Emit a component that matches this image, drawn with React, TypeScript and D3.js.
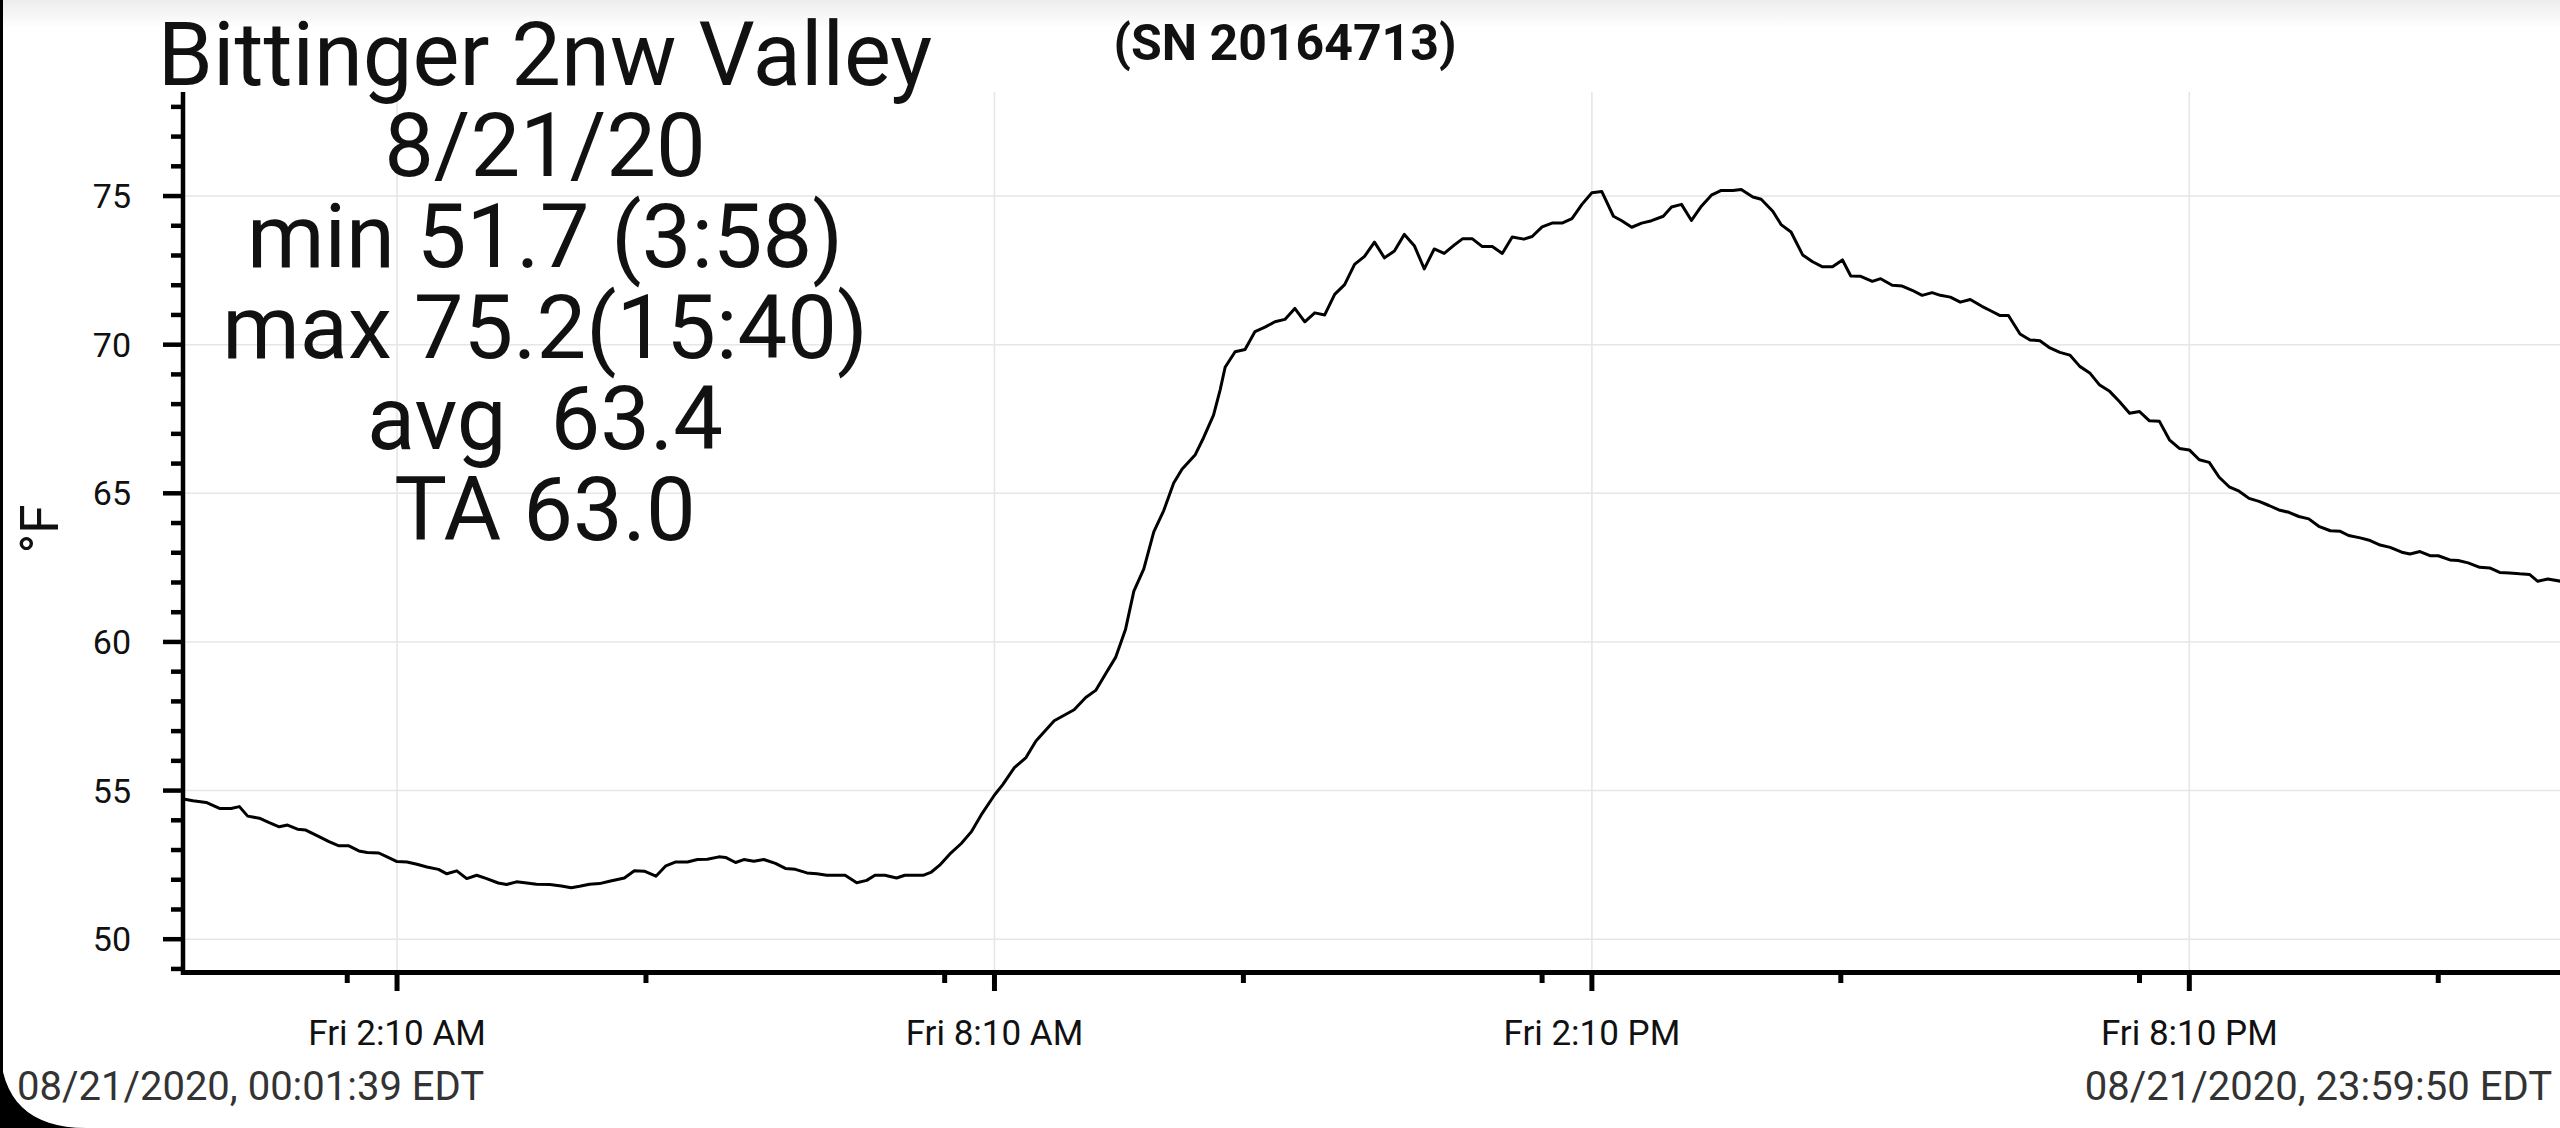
import React, { useEffect } from "react";
import * as d3 from "d3";

// ---- data (minutes since midnight, °F) ----
const minutes: number[] = [
  2, 7, 15, 23, 30, 35, 40, 47, 53, 59, 64, 70, 75, 83, 89, 95, 101, 107, 112, 119,
  124, 130, 136, 142, 148, 155, 160, 166, 172, 178, 184, 191, 196, 202, 207, 214, 222, 229, 235, 240,
  246, 252, 258, 267, 273, 279, 286, 292, 298, 305, 311, 317, 324, 328, 334, 339, 345, 351, 358, 364,
  370, 377, 383, 389, 400, 407, 413, 418, 424, 431, 436, 447, 452, 457, 463, 470, 476, 482, 490, 495,
  502, 509, 515, 526, 538, 545, 551, 557, 563, 569, 574, 580, 586, 592, 598, 603, 611, 616, 622, 626,
  629, 635, 641, 647, 653, 659, 665, 671, 677, 683, 689, 695, 701, 707, 713, 719, 725, 731, 737, 743,
  749, 755, 761, 767, 772, 778, 784, 790, 796, 802, 809, 814, 820, 826, 832, 838, 844, 850, 856, 863,
  868, 874, 880, 886, 893, 898, 904, 910, 916, 922, 928, 935, 940, 947, 952, 959, 964, 970, 977, 983,
  989, 995, 1001, 1006, 1012, 1019, 1024, 1031, 1037, 1043, 1049, 1055, 1060, 1066, 1072, 1078, 1085, 1090, 1096, 1101,
  1108, 1114, 1120, 1126, 1132, 1138, 1144, 1150, 1156, 1162, 1168, 1174, 1180, 1186, 1192, 1198, 1204, 1210, 1216, 1222,
  1228, 1234, 1240, 1246, 1252, 1258, 1264, 1270, 1276, 1282, 1288, 1295, 1301, 1306, 1313, 1319, 1325, 1331, 1338, 1343,
  1349, 1355, 1360, 1367, 1372, 1378, 1385, 1391, 1397, 1403, 1409, 1415, 1420, 1426, 1434, 1440,
];
const temps: number[] = [
  54.71, 54.66, 54.6, 54.4, 54.4, 54.46, 54.14, 54.07, 53.92, 53.78, 53.84, 53.7, 53.67, 53.45, 53.28, 53.14, 53.14, 52.97, 52.92, 52.9,
  52.77, 52.61, 52.6, 52.52, 52.43, 52.35, 52.2, 52.3, 52.04, 52.15, 52.04, 51.89, 51.84, 51.93, 51.9, 51.85, 51.84, 51.79, 51.73, 51.78,
  51.85, 51.87, 51.95, 52.06, 52.3, 52.29, 52.12, 52.47, 52.6, 52.6, 52.68, 52.69, 52.77, 52.75, 52.58, 52.68, 52.62, 52.68, 52.55, 52.38,
  52.35, 52.23, 52.2, 52.15, 52.15, 51.9, 51.98, 52.15, 52.15, 52.06, 52.15, 52.15, 52.26, 52.49, 52.86, 53.22, 53.61, 54.18, 54.85, 55.2,
  55.77, 56.11, 56.67, 57.35, 57.72, 58.13, 58.37, 58.93, 59.48, 60.43, 61.71, 62.46, 63.7, 64.42, 65.35, 65.81, 66.3, 66.87, 67.63, 68.48,
  69.24, 69.76, 69.84, 70.44, 70.59, 70.77, 70.85, 71.22, 70.77, 71.07, 71.0, 71.69, 72.02, 72.7, 72.97, 73.45, 72.92, 73.15, 73.71, 73.33,
  72.55, 73.22, 73.07, 73.35, 73.56, 73.56, 73.3, 73.3, 73.07, 73.62, 73.55, 73.64, 73.96, 74.09, 74.09, 74.24, 74.72, 75.11, 75.15, 74.32,
  74.17, 73.95, 74.09, 74.17, 74.32, 74.63, 74.72, 74.18, 74.66, 75.03, 75.19, 75.19, 75.22, 74.97, 74.89, 74.49, 74.04, 73.79, 73.02, 72.79,
  72.62, 72.62, 72.85, 72.31, 72.3, 72.13, 72.22, 72.0, 71.97, 71.83, 71.66, 71.75, 71.66, 71.6, 71.43, 71.52, 71.29, 71.15, 70.98, 70.98,
  70.36, 70.16, 70.13, 69.89, 69.74, 69.65, 69.27, 69.05, 68.64, 68.43, 68.08, 67.69, 67.75, 67.44, 67.42, 66.8, 66.51, 66.46, 66.13, 66.04,
  65.54, 65.22, 65.07, 64.83, 64.73, 64.59, 64.44, 64.36, 64.22, 64.14, 63.89, 63.74, 63.72, 63.58, 63.5, 63.41, 63.26, 63.18, 63.02, 62.96,
  63.04, 62.9, 62.9, 62.76, 62.74, 62.66, 62.51, 62.49, 62.34, 62.32, 62.29, 62.27, 62.04, 62.12, 62.04, 62.05,
];

const infoLines: string[] = [
  "Bittinger 2nw Valley",
  "8/21/20",
  "min 51.7 (3:58)",
  "max 75.2(15:40)",
  "avg  63.4",
  "TA 63.0",
];
const serialLabel = "(SN 20164713)";
const unitLabel = "°F";
const startLabel = "08/21/2020, 00:01:39 EDT";
const endLabel = "08/21/2020, 23:59:50 EDT";
const yMajorTicks: number[] = [50, 55, 60, 65, 70, 75];
const xMajorTickMinutes: number[] = [130, 490, 850, 1210];
const xMinorTickMinutes: number[] = [100, 280, 460, 640, 820, 1000, 1180, 1360];

const W = 2560;
const H = 1128;
const FONT = "Roboto, 'Noto Sans', sans-serif";

const day = (m: number) => new Date(2020, 7, 21, 0, m, 0);

export default function App() {
  useEffect(() => {
    document.body.style.margin = "0";
    document.body.style.overflow = "hidden";
  }, []);

  const axisLeft = 183;
  const axisBottom = 972.5;
  const plotTop = 92;

  const x = d3.scaleTime().domain([day(0), day(1440)]).range([181.3, 2571.0]);
  const y = d3.scaleLinear().domain([48.88, 78.5]).range([axisBottom, plotTop]);

  const data = minutes.map((m, i) => ({ t: day(m), v: temps[i] }));
  const line = d3
    .line<{ t: Date; v: number }>()
    .x((d) => x(d.t))
    .y((d) => y(d.v));

  const fmt = d3.timeFormat("%a %-I:%M %p");
  const yMinor = d3.range(49, 79, 1).filter((v) => v % 5 !== 0);

  return (
    <svg
      width={W}
      height={H}
      style={{ position: "absolute", left: 0, top: 0, background: "#fff" }}
      fontFamily={FONT}
    >
      <defs>
        <linearGradient id="topShade" x1="0" y1="0" x2="0" y2="1">
          <stop offset="0" stopColor="#ececec" />
          <stop offset="1" stopColor="#ffffff" />
        </linearGradient>
        <clipPath id="plotClip">
          <rect x={axisLeft} y={0} width={W - axisLeft} height={axisBottom} />
        </clipPath>
      </defs>
      <rect x={0} y={0} width={W} height={H} fill="#fff" />
      <rect x={0} y={0} width={W} height={28} fill="url(#topShade)" />

      {/* gridlines */}
      {yMajorTicks.map((v) => (
        <line key={"gy" + v} x1={axisLeft} x2={W} y1={y(v)} y2={y(v)} stroke="#e6e6e6" strokeWidth={1.6} />
      ))}
      {xMajorTickMinutes.map((m) => (
        <line key={"gx" + m} x1={x(day(m))} x2={x(day(m))} y1={plotTop} y2={axisBottom} stroke="#e6e6e6" strokeWidth={1.6} />
      ))}

      {/* series */}
      <path d={line(data) || ""} fill="none" stroke="#000" strokeWidth={3} strokeLinejoin="round" clipPath="url(#plotClip)" />

      {/* y axis */}
      <line x1={axisLeft} x2={axisLeft} y1={plotTop} y2={axisBottom + 2.5} stroke="#000" strokeWidth={4.5} />
      {yMajorTicks.map((v) => (
        <line key={"ty" + v} x1={163} x2={axisLeft} y1={y(v)} y2={y(v)} stroke="#000" strokeWidth={4.5} />
      ))}
      {yMinor.map((v) => (
        <line key={"my" + v} x1={171} x2={axisLeft} y1={y(v)} y2={y(v)} stroke="#000" strokeWidth={4.5} />
      ))}
      {yMajorTicks.map((v) => (
        <text key={"ly" + v} x={131} y={y(v)} textAnchor="end" dominantBaseline="central" fontSize={34} fill="#111">
          {v}
        </text>
      ))}

      {/* x axis */}
      <line x1={axisLeft - 2} x2={W} y1={axisBottom} y2={axisBottom} stroke="#000" strokeWidth={5} />
      {xMajorTickMinutes.map((m) => (
        <line key={"tx" + m} x1={x(day(m))} x2={x(day(m))} y1={axisBottom} y2={991} stroke="#000" strokeWidth={5} />
      ))}
      {xMinorTickMinutes.map((m) => (
        <line key={"mx" + m} x1={x(day(m))} x2={x(day(m))} y1={axisBottom} y2={983} stroke="#000" strokeWidth={5} />
      ))}
      {xMajorTickMinutes.map((m) => (
        <text key={"lx" + m} x={x(day(m))} y={1045} textAnchor="middle" fontSize={35} fill="#111">
          {fmt(day(m))}
        </text>
      ))}

      {/* unit label */}
      <text transform="translate(58,529) rotate(-90)" textAnchor="middle" fontSize={53} fill="#111">
        {unitLabel}
      </text>

      {/* info block */}
      {infoLines.map((s, i) => (
        <text
          key={"info" + i}
          x={545}
          y={85 + i * 91}
          textAnchor="middle"
          fontSize={88.5}
          fill="#111"
          style={{ whiteSpace: "pre" }}
        >
          {s}
        </text>
      ))}
      <text x={1285} y={60} textAnchor="middle" fontSize={50} fontWeight="bold" fill="#111">
        {serialLabel}
      </text>

      {/* range labels */}
      <text x={17} y={1100} fontSize={40} fill="#333">
        {startLabel}
      </text>
      <text x={2552} y={1100} textAnchor="end" fontSize={40} fill="#333">
        {endLabel}
      </text>

      {/* device frame edge */}
      <rect x={0} y={0} width={3} height={H} fill="#000" />
      <path d={`M0,1044 C0,1100 30,1128 86,1128 L0,1128 Z`} fill="#000" />
    </svg>
  );
}
